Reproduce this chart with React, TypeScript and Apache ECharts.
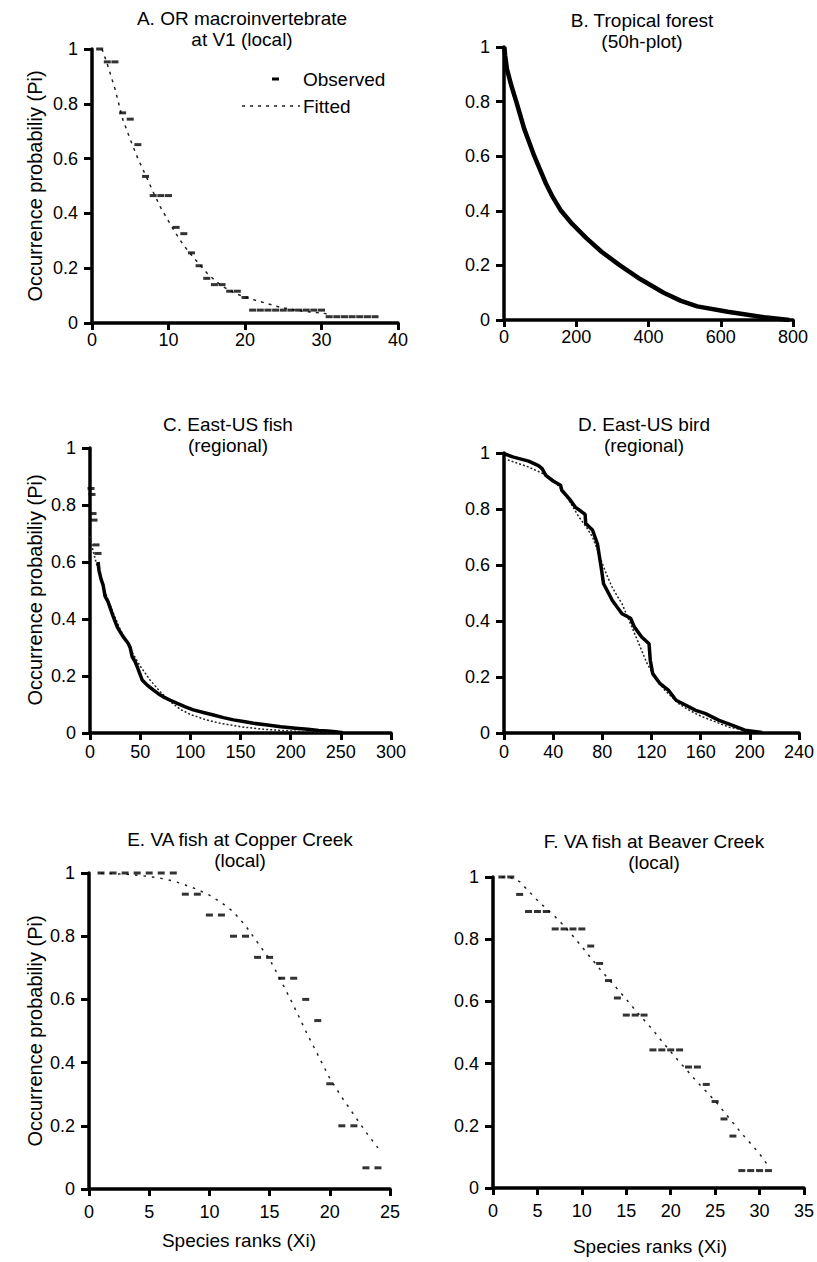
import React, { useEffect, useRef } from "react";
import * as echarts from "echarts";

const FONT = "'Liberation Sans', Arial, Helvetica, sans-serif";

// ---------- Panel A: OR macroinvertebrate at V1 (local) ----------
const aRanks = [1,2,3,4,5,6,7,8,9,10,11,12,13,14,15,16,17,18,19,20,21,22,23,24,25,26,27,28,29,30,31,32,33,34,35,36,37];
const aObserved = [1,0.953,0.953,0.767,0.744,0.651,0.535,0.465,0.465,0.465,0.349,0.326,0.256,0.209,0.163,0.14,0.14,0.116,0.116,0.093,
  0.047,0.047,0.047,0.047,0.047,0.047,0.047,0.047,0.047,0.047,0.023,0.023,0.023,0.023,0.023,0.023,0.023];
const aFitted: [number, number][] = [[1.3,1],[2,0.945],[3,0.855],[4,0.745],[5,0.67],[6,0.6],[7,0.54],[8,0.478],[9,0.42],[10,0.372],
  [11,0.325],[12,0.283],[13,0.248],[14,0.215],[15,0.183],[16,0.157],[17,0.135],[18,0.118],[19,0.105],[20,0.095],[21,0.086],
  [22,0.078],[23,0.07],[24,0.062],[25,0.055],[26,0.05],[27,0.045],[28,0.042],[29,0.039],[30,0.036],[31,0.033]];

// ---------- Panel B: Tropical forest (50h-plot) ----------
const bObserved: [number, number][] = [[1,1],[3,0.97],[5,0.95],[8,0.92],[12,0.9],[20,0.86],[34,0.8],[45,0.75],[56,0.7],[70,0.65],
  [84,0.6],[100,0.55],[116,0.5],[135,0.45],[158,0.4],[190,0.35],[228,0.3],[270,0.25],[321,0.2],[377,0.15],[442,0.1],[490,0.07],
  [535,0.05],[619,0.03],[721,0.01],[790,0]];

// ---------- Panel C: East-US fish (regional) ----------
const cTopDashes: [number, number][] = [[1,0.858],[2,0.837],[3,0.77],[4,0.747],[6,0.66],[8,0.63]];
const cObserved: [number, number][] = [[8,0.6],[9,0.57],[11,0.54],[13,0.52],[15,0.48],[18,0.46],[20,0.44],[23,0.41],[27,0.373],
  [30,0.355],[33,0.338],[38,0.315],[40,0.3],[42,0.268],[45,0.25],[47,0.233],[50,0.205],[52,0.186],[57,0.168],[63,0.151],[68,0.138],
  [73,0.127],[80,0.115],[87,0.104],[95,0.092],[103,0.081],[113,0.072],[123,0.063],[133,0.054],[143,0.046],[153,0.04],[163,0.034],
  [177,0.028],[190,0.022],[205,0.017],[217,0.013],[228,0.009],[237,0.007],[245,0.004],[252,0.001]];
const cFitted: [number, number][] = [[0,0.69],[3,0.64],[6,0.6],[10,0.55],[15,0.495],[20,0.45],[25,0.405],[30,0.365],[35,0.33],
  [40,0.295],[45,0.265],[50,0.235],[55,0.21],[60,0.185],[70,0.145],[80,0.11],[90,0.083],[100,0.065],[115,0.047],[130,0.034],
  [150,0.022],[170,0.014],[190,0.009],[210,0.005],[230,0.002],[250,0]];

// ---------- Panel D: East-US bird (regional) ----------
const dObserved: [number, number][] = [[0,0.998],[7,0.986],[20,0.971],[28,0.955],[31,0.944],[34,0.92],[40,0.9],[46,0.885],[47,0.867],
  [53,0.837],[58,0.807],[66,0.781],[66.5,0.748],[72,0.725],[76,0.676],[79,0.593],[81,0.533],[85,0.5],[88,0.474],[96,0.426],
  [103,0.41],[106,0.379],[112,0.343],[118,0.319],[119,0.26],[121,0.212],[127,0.176],[134,0.152],[140,0.117],[148,0.099],
  [156,0.081],[164,0.069],[175,0.045],[186,0.027],[196,0.01],[210,0.002]];
const dFitted: [number, number][] = [[0,0.98],[20,0.95],[35,0.92],[45,0.88],[53,0.83],[61,0.771],[67,0.735],[72,0.7],[76,0.655],
  [80,0.605],[84,0.56],[88,0.521],[92,0.49],[96,0.462],[100,0.42],[104,0.379],[108,0.337],[112,0.295],[116,0.252],[121,0.212],
  [126,0.18],[131,0.152],[137,0.127],[142,0.105],[149,0.086],[156,0.069],[162,0.057],[169,0.045],[176,0.033],[183,0.021],
  [190,0.015],[196,0.01],[205,0.004]];

// ---------- Panel E: VA fish at Copper Creek (local) ----------
const eRanks = [1,2,3,4,5,6,7,8,9,10,11,12,13,14,15,16,17,18,19,20,21,22,23,24];
const eObserved = [1,1,1,1,1,1,1,0.933,0.933,0.867,0.867,0.8,0.8,0.733,0.733,0.667,0.667,0.6,0.533,0.333,0.2,0.2,0.067,0.067];
const eFitted = [0.999,0.998,0.996,0.993,0.989,0.983,0.975,0.962,0.948,0.93,0.906,0.877,0.833,0.78,0.727,0.655,0.58,0.5,0.425,
  0.35,0.29,0.235,0.18,0.13];

// ---------- Panel F: VA fish at Beaver Creek (local) ----------
const fRanks = [1,2,3,4,5,6,7,8,9,10,11,12,13,14,15,16,17,18,19,20,21,22,23,24,25,26,27,28,29,30,31];
const fObserved = [1,1,0.944,0.889,0.889,0.889,0.833,0.833,0.833,0.833,0.778,0.722,0.667,0.611,0.556,0.556,0.556,
  0.444,0.444,0.444,0.444,0.389,0.389,0.333,0.278,0.222,0.167,0.056,0.056,0.056,0.056];
const fFitted = [1,0.998,0.985,0.955,0.925,0.898,0.872,0.843,0.81,0.776,0.74,0.705,0.672,0.64,0.607,0.572,0.54,0.508,0.472,
  0.438,0.405,0.373,0.34,0.31,0.28,0.245,0.21,0.175,0.143,0.11,0.07];

// ---------- Axes ----------
const xMax = [40, 800, 300, 240, 25, 35];
const xInterval = [10, 200, 50, 40, 5, 5];
const yTicks = [0, 0.2, 0.4, 0.6, 0.8, 1];

const titles = [
  "A. OR macroinvertebrate\nat V1 (local)",
  "B. Tropical forest\n(50h-plot)",
  "C. East-US fish\n(regional)",
  "D. East-US bird\n(regional)",
  "E. VA fish at Copper Creek\n(local)",
  "F. VA fish at Beaver Creek\n(local)",
];
const yLabelText = "Occurrence probabiliy (Pi)";
const xLabelText = "Species ranks (Xi)";
const legendObserved = "Observed";
const legendFitted = "Fitted";

export default function App() {
  const ref = useRef<HTMLDivElement>(null);
  useEffect(() => {
    if (!ref.current) return;
    const chart = echarts.init(ref.current, undefined, { renderer: "svg" });

    const grids = [
      { left: 92, top: 49, width: 306, height: 274 },
      { left: 504, top: 47, width: 289, height: 273 },
      { left: 90, top: 448, width: 301, height: 285 },
      { left: 504, top: 453, width: 296, height: 280 },
      { left: 89, top: 873, width: 301, height: 316 },
      { left: 493, top: 877, width: 314, height: 311 },
    ];
    const xMargins = [8, 8, 10, 10, 14, 14];

    const xAxis = grids.map((_, i) => ({
      type: "value",
      gridIndex: i,
      min: 0,
      max: xMax[i],
      interval: xInterval[i],
      axisLine: { show: true, onZero: false, lineStyle: { color: "#000", width: 3.5 } },
      axisTick: { show: true, length: 7, lineStyle: { color: "#000", width: 3 } },
      axisLabel: { color: "#000", fontSize: 18, fontFamily: FONT, margin: xMargins[i] },
      splitLine: { show: false },
    }));
    const yAxis = grids.map((_, i) => ({
      type: "value",
      gridIndex: i,
      min: yTicks[0],
      max: yTicks[yTicks.length - 1],
      interval: 0.2,
      axisLine: { show: true, onZero: false, lineStyle: { color: "#000", width: 3.5 } },
      axisTick: { show: true, length: 8, lineStyle: { color: "#000", width: 3 } },
      axisLabel: { color: "#000", fontSize: 18, fontFamily: FONT, margin: 14 },
      splitLine: { show: false },
    }));

    const dash = (i: number, data: [number, number][]) => ({
      type: "scatter",
      xAxisIndex: i,
      yAxisIndex: i,
      symbol: "rect",
      symbolSize: [7, 3],
      itemStyle: { color: "#000" },
      data,
      z: 3,
    });
    const thick = (i: number, data: [number, number][], width: number) => ({
      type: "line",
      xAxisIndex: i,
      yAxisIndex: i,
      showSymbol: false,
      symbol: "none",
      lineStyle: { color: "#000", width },
      data,
      z: 3,
    });
    const fitted = (i: number, data: [number, number][], pattern: number[]) => ({
      type: "line",
      xAxisIndex: i,
      yAxisIndex: i,
      showSymbol: false,
      symbol: "none",
      lineStyle: { color: "#222", width: 1.5, type: pattern },
      data,
      z: 2,
    });

    const series: any[] = [
      dash(0, aRanks.map((r, k) => [r, aObserved[k]] as [number, number])),
      fitted(0, aFitted, [3, 5]),
      thick(1, bObserved, 4.5),
      dash(2, cTopDashes),
      thick(2, cObserved, 3.5),
      fitted(2, cFitted, [2, 2]),
      thick(3, dObserved, 3.5),
      fitted(3, dFitted, [2, 2]),
      dash(4, eRanks.map((r, k) => [r, eObserved[k]] as [number, number])),
      fitted(4, eRanks.map((r, k) => [r, eFitted[k]] as [number, number]), [2.5, 6]),
      dash(5, fRanks.map((r, k) => [r, fObserved[k]] as [number, number])),
      fitted(5, fRanks.map((r, k) => [r, fFitted[k]] as [number, number]), [2.5, 6]),
    ];

    const titlePos = [
      [242, 8], [642, 10], [228, 414], [644, 414], [240, 829], [654, 831],
    ];
    const titleText = titles.map((t, i) => ({
      type: "text",
      x: titlePos[i][0],
      y: titlePos[i][1],
      style: {
        text: t,
        align: "center",
        verticalAlign: "top",
        fontSize: 19,
        lineHeight: 21,
        fontFamily: FONT,
        fill: "#000",
      },
    }));
    const yLabels = [186, 590, 1031].map((cy) => ({
      type: "text",
      x: 35,
      y: cy,
      rotation: Math.PI / 2,
      style: {
        text: yLabelText,
        align: "center",
        verticalAlign: "middle",
        fontSize: 20,
        fontFamily: FONT,
        fill: "#000",
      },
    }));
    const xLabels = [[239, 1240], [650, 1246]].map(([cx, cy]) => ({
      type: "text",
      x: cx,
      y: cy,
      style: {
        text: xLabelText,
        align: "center",
        verticalAlign: "middle",
        fontSize: 19,
        fontFamily: FONT,
        fill: "#000",
      },
    }));
    const legend = [
      { type: "rect", shape: { x: 272, y: 77.5, width: 7, height: 3 }, style: { fill: "#000" } },
      {
        type: "text", x: 303, y: 79,
        style: { text: legendObserved, align: "left", verticalAlign: "middle", fontSize: 19, fontFamily: FONT, fill: "#000" },
      },
      {
        type: "line", shape: { x1: 242, y1: 106, x2: 300, y2: 106 },
        style: { stroke: "#222", lineWidth: 1.5, lineDash: [3, 5] },
      },
      {
        type: "text", x: 303, y: 106,
        style: { text: legendFitted, align: "left", verticalAlign: "middle", fontSize: 19, fontFamily: FONT, fill: "#000" },
      },
    ];

    chart.setOption({
      animation: false,
      backgroundColor: "#fff",
      grid: grids,
      xAxis,
      yAxis,
      series,
      graphic: [...titleText, ...yLabels, ...xLabels, ...legend],
    });
    return () => chart.dispose();
  }, []);
  return (
    <div
      ref={ref}
      style={{ position: "absolute", left: 0, top: 0, width: 817, height: 1262 }}
    />
  );
}
